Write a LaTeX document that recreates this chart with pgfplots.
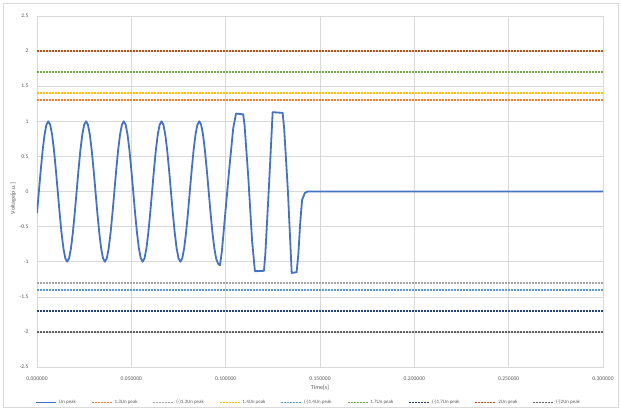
\documentclass[border=0pt]{standalone}
\usepackage{pgfplots}
\pgfplotsset{compat=1.18}
\usepackage{fontspec}
\setmainfont{Carlito}

\definecolor{xlblue}{HTML}{4472C4}
\definecolor{xlorange}{HTML}{ED7D31}
\definecolor{xlgray}{HTML}{A5A5A5}
\definecolor{xlgold}{HTML}{FFC000}
\definecolor{xllblue}{HTML}{5B9BD5}
\definecolor{xlgreen}{HTML}{70AD47}
\definecolor{xlnavy}{HTML}{264478}
\definecolor{xlbrown}{HTML}{B5541A}
\definecolor{xldgray}{HTML}{636363}
\definecolor{gridc}{HTML}{D9D9D9}
\definecolor{txtc}{HTML}{595959}

\pgfplotsset{
  limit/.style={#1, line width=1.7bp, dash pattern=on 2bp off 1bp},
}

\begin{document}
\begin{tikzpicture}
\begin{axis}[
    scale only axis,
    width=566bp, height=351bp,
    xmin=0, xmax=0.3, ymin=-2.5, ymax=2.5,
    xtick={0,0.05,...,0.3},
    ytick={-2.5,-2,...,2.5},
    grid=major,
    major grid style={gridc, line width=0.6bp},
    axis line style={gridc, line width=0.6bp},
    major tick length=0pt,
    tick label style={font=\fontsize{5.6}{6}\selectfont, text=txtc},
    xticklabel style={/pgf/number format/.cd, fixed, fixed zerofill, precision=6, assume math mode=true},
    yticklabel style={/pgf/number format/.cd, assume math mode=true},
    xticklabel shift=6bp,
    yticklabel shift=5bp,
    xlabel={Time[s]},
    ylabel={Voltage[p.u.]},
    label style={font=\fontsize{6}{7}\selectfont, text=txtc},
    xlabel style={yshift=2bp},
    ylabel style={yshift=-3bp, xshift=-7bp},
    legend columns=-1,
    legend style={draw=none, fill=none, at={(0.48,-0.082)}, anchor=north,
      font=\fontsize{5}{6}\selectfont, text=txtc,
      /tikz/every even column/.append style={column sep=13bp}},
    legend image code/.code={\draw[#1] (0bp,0bp) -- (20bp,0bp);},
  ]
  \addplot[xlblue, line width=1.8bp, line join=round] coordinates {
    (0.000,-0.309) (0.001,0) (0.002,0.309) (0.003,0.588) (0.004,0.809)
    (0.005,0.951) (0.006,1) (0.007,0.951) (0.008,0.809) (0.009,0.588)
    (0.010,0.309) (0.011,0) (0.012,-0.309) (0.013,-0.588) (0.014,-0.809)
    (0.015,-0.951) (0.016,-1) (0.017,-0.951) (0.018,-0.809) (0.019,-0.588)
    (0.020,-0.309) (0.021,0) (0.022,0.309) (0.023,0.588) (0.024,0.809)
    (0.025,0.951) (0.026,1) (0.027,0.951) (0.028,0.809) (0.029,0.588)
    (0.030,0.309) (0.031,0) (0.032,-0.309) (0.033,-0.588) (0.034,-0.809)
    (0.035,-0.951) (0.036,-1) (0.037,-0.951) (0.038,-0.809) (0.039,-0.588)
    (0.040,-0.309) (0.041,0) (0.042,0.309) (0.043,0.588) (0.044,0.809)
    (0.045,0.951) (0.046,1) (0.047,0.951) (0.048,0.809) (0.049,0.588)
    (0.050,0.309) (0.051,0) (0.052,-0.309) (0.053,-0.588) (0.054,-0.809)
    (0.055,-0.951) (0.056,-1) (0.057,-0.951) (0.058,-0.809) (0.059,-0.588)
    (0.060,-0.309) (0.061,0) (0.062,0.309) (0.063,0.588) (0.064,0.809)
    (0.065,0.951) (0.066,1) (0.067,0.951) (0.068,0.809) (0.069,0.588)
    (0.070,0.309) (0.071,0) (0.072,-0.309) (0.073,-0.588) (0.074,-0.809)
    (0.075,-0.951) (0.076,-1) (0.077,-0.951) (0.078,-0.809) (0.079,-0.588)
    (0.080,-0.309) (0.081,0) (0.082,0.309) (0.083,0.588) (0.084,0.809)
    (0.085,0.951) (0.086,1) (0.087,0.951) (0.088,0.809) (0.089,0.588)
    (0.090,0.309) (0.091,0) (0.092,-0.309) (0.093,-0.588) (0.094,-0.809)
    (0.095,-0.96) (0.096,-1.03) (0.097,-1.05)
    (0.098,-0.85) (0.100,-0.25) (0.102,0.35) (0.104,0.90) (0.1055,1.11)
    (0.1093,1.10) (0.110,0.95) (0.112,0.20) (0.114,-0.70) (0.1155,-1.135)
    (0.1203,-1.13) (0.121,-0.90) (0.123,0.10) (0.1249,1.13)
    (0.1302,1.12) (0.131,0.90) (0.133,0.00) (0.135,-1.16)
    (0.1376,-1.15) (0.1385,-0.90) (0.1395,-0.45) (0.1405,-0.12)
    (0.142,-0.02) (0.1435,0) (0.300,0)
  };
  \addlegendentry{Un peak}
  \addplot[limit=xlorange] coordinates {(0,1.3) (0.3,1.3)};
  \addlegendentry{1.3Un peak}
  \addplot[limit=xlgray] coordinates {(0,-1.3) (0.3,-1.3)};
  \addlegendentry{(-)1.3Un peak}
  \addplot[limit=xlgold] coordinates {(0,1.4) (0.3,1.4)};
  \addlegendentry{1.4Un peak}
  \addplot[limit=xllblue] coordinates {(0,-1.4) (0.3,-1.4)};
  \addlegendentry{(-)1.4Un peak}
  \addplot[limit=xlgreen] coordinates {(0,1.7) (0.3,1.7)};
  \addlegendentry{1.7Un peak}
  \addplot[limit=xlnavy] coordinates {(0,-1.7) (0.3,-1.7)};
  \addlegendentry{(-)1.7Un peak}
  \addplot[limit=xlbrown] coordinates {(0,2) (0.3,2)};
  \addlegendentry{2Un peak}
  \addplot[limit=xldgray] coordinates {(0,-2) (0.3,-2)};
  \addlegendentry{(-)2Un peak}
\end{axis}
\draw[gridc, line width=0.6bp] (-34bp,-40bp) rectangle (581bp,364bp);
\useasboundingbox (-37bp,-43bp) rectangle (584bp,367bp);
\end{tikzpicture}
\end{document}
